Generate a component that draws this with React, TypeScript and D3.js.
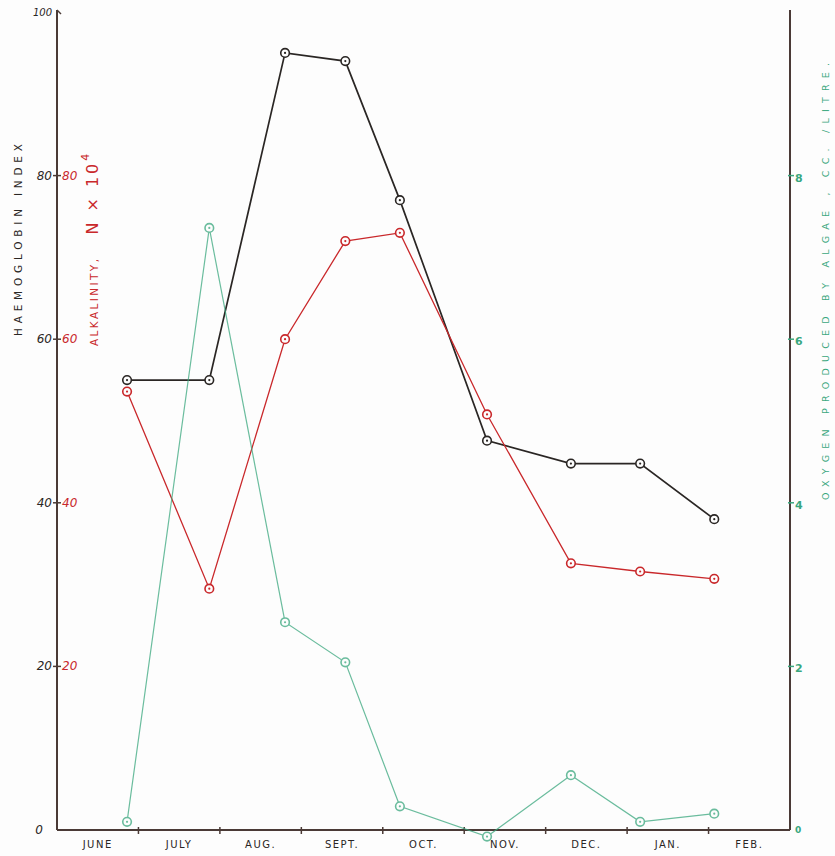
import React from "react";
import * as d3 from "d3";

// month bands along the bottom
const months = ["JUNE", "JULY", "AUG.", "SEPT.", "OCT.", "NOV.", "DEC.", "JAN.", "FEB."];
// sampling dates, in months from the 1st of June
const sampleMonth = [0.86, 1.87, 2.8, 3.54, 4.21, 5.28, 6.31, 7.16, 8.07];
// haemoglobin index (left axis)
const haemoglobin = [55, 55, 95, 94, 77, 47.6, 44.8, 44.8, 38];
// alkalinity, N x 10^4 (left axis, red)
const alkalinity = [53.6, 29.5, 60, 72, 73, 50.8, 32.6, 31.6, 30.7];
// oxygen produced by algae, cc./litre (right axis)
const oxygen = [0.1, 7.36, 2.54, 2.05, 0.29, -0.08, 0.67, 0.1, 0.2];

const leftTicks = [0, 20, 40, 60, 80, 100];
const redTicks = [20, 40, 60, 80];
const rightTicks = [0, 2, 4, 6, 8];

const width = 835;
const height = 856;
const margin = { left: 57, right: 45, top: 12, bottom: 26 };

const BLACK = "#2a2624";
const RED = "#c9282b";
const GREEN = "#3aa77e";
const AXIS = "#4a3a36";
const FONT = "'DejaVu Sans', sans-serif";

export default function App() {
  const x = d3.scaleLinear().domain([0, months.length]).range([margin.left, width - margin.right]);
  const yLeft = d3.scaleLinear().domain([0, 100]).range([height - margin.bottom, margin.top]);
  const yRight = d3.scaleLinear().domain([0, 10]).range([height - margin.bottom, margin.top]);

  const x0 = x(0);
  const x1 = x(months.length);
  const yBase = yLeft(0);

  const series = [
    { values: haemoglobin, y: yLeft, color: BLACK, width: 1.7, opacity: 1 },
    { values: alkalinity, y: yLeft, color: RED, width: 1.3, opacity: 1 },
    { values: oxygen, y: yRight, color: GREEN, width: 1.2, opacity: 0.75 },
  ];

  return (
    <svg width={width} height={height} style={{ position: "absolute", left: 0, top: 0, background: "#fdfdfd" }}>
      {/* axes */}
      <line x1={x0} x2={x0} y1={yLeft(100) - 2} y2={yBase} stroke={AXIS} strokeWidth={2} />
      <line x1={x0} x2={x0 + 4} y1={yLeft(100) - 2} y2={yLeft(100) + 2} stroke={AXIS} strokeWidth={1.5} />
      <line x1={x1} x2={x1} y1={yRight(10) - 2} y2={yBase} stroke={AXIS} strokeWidth={2} />
      <line x1={x0} x2={x1} y1={yBase} y2={yBase} stroke={AXIS} strokeWidth={2} />

      {/* month ticks and labels */}
      {d3.range(1, months.length).map((i) => (
        <line key={"mt" + i} x1={x(i)} x2={x(i)} y1={yBase - 3} y2={yBase + 4} stroke={AXIS} strokeWidth={1.5} />
      ))}
      {months.map((m, i) => (
        <text key={m} x={x(i + 0.5)} y={yBase + 18} textAnchor="middle" fontFamily={FONT} fontSize={10}
          letterSpacing={1.5} fill={BLACK}>{m}</text>
      ))}

      {/* left ticks */}
      {leftTicks.map((t) => (
        <g key={"l" + t}>
          {t > 0 && t < 100 && <line x1={x0 - 4} x2={x0 + 4} y1={yLeft(t)} y2={yLeft(t)} stroke={AXIS} strokeWidth={1.5} />}
          <text x={t === 0 ? x0 - 14 : x0 - 5} y={yLeft(t) + 4} textAnchor="end" fontFamily={FONT}
            fontSize={t === 100 ? 10 : 12} fontStyle="italic" fill={BLACK}>{t}</text>
        </g>
      ))}
      {redTicks.map((t) => (
        <text key={"r" + t} x={x0 + 5} y={yLeft(t) + 4} fontFamily={FONT} fontSize={12} fontStyle="italic" fill={RED}>{t}</text>
      ))}

      {/* right ticks */}
      {rightTicks.map((t) => (
        <g key={"g" + t}>
          {t > 0 && <line x1={x1 - 2} x2={x1 + 4} y1={yRight(t)} y2={yRight(t)} stroke={GREEN} strokeWidth={1.5} />}
          <text x={x1 + 5} y={yRight(t) + (t === 0 ? 3 : 6)} fontFamily={FONT} fontSize={t === 0 ? 9 : 11}
            fontWeight="bold" fill={GREEN}>{t}</text>
        </g>
      ))}

      {/* axis titles */}
      <text transform={`translate(22,336) rotate(-90)`} fontFamily={FONT} fontSize={10.5} fill={BLACK}
        textLength={192} lengthAdjust="spacing">HAEMOGLOBIN  INDEX</text>
      <text transform={`translate(98,346) rotate(-90)`} fontFamily={FONT} fill={RED}>
        <tspan fontSize={10.5} letterSpacing={2.4}>ALKALINITY,</tspan>
        <tspan fontSize={16} dx={22} letterSpacing={3}>N × 10</tspan>
        <tspan fontSize={11} dy={-9}>4</tspan>
      </text>
      <text transform={`translate(829,500) rotate(-90)`} fontFamily={FONT} fontSize={9.5} fill={GREEN}
        textLength={437} lengthAdjust="spacing">OXYGEN   PRODUCED   BY   ALGAE ,   CC. /LITRE.</text>

      {/* series */}
      {series.map((s, si) => {
        const line = d3.line<number>().x((_, i) => x(sampleMonth[i])).y((v) => s.y(v));
        return (
          <g key={"s" + si} opacity={s.opacity}>
            <path d={line(s.values) || ""} fill="none" stroke={s.color} strokeWidth={s.width} />
            {s.values.map((v, i) => (
              <g key={i}>
                <circle cx={x(sampleMonth[i])} cy={s.y(v)} r={4.3} fill="#fdfdfd" stroke={s.color} strokeWidth={1.6} />
                <circle cx={x(sampleMonth[i])} cy={s.y(v)} r={1.1} fill={s.color} />
              </g>
            ))}
          </g>
        );
      })}
    </svg>
  );
}
